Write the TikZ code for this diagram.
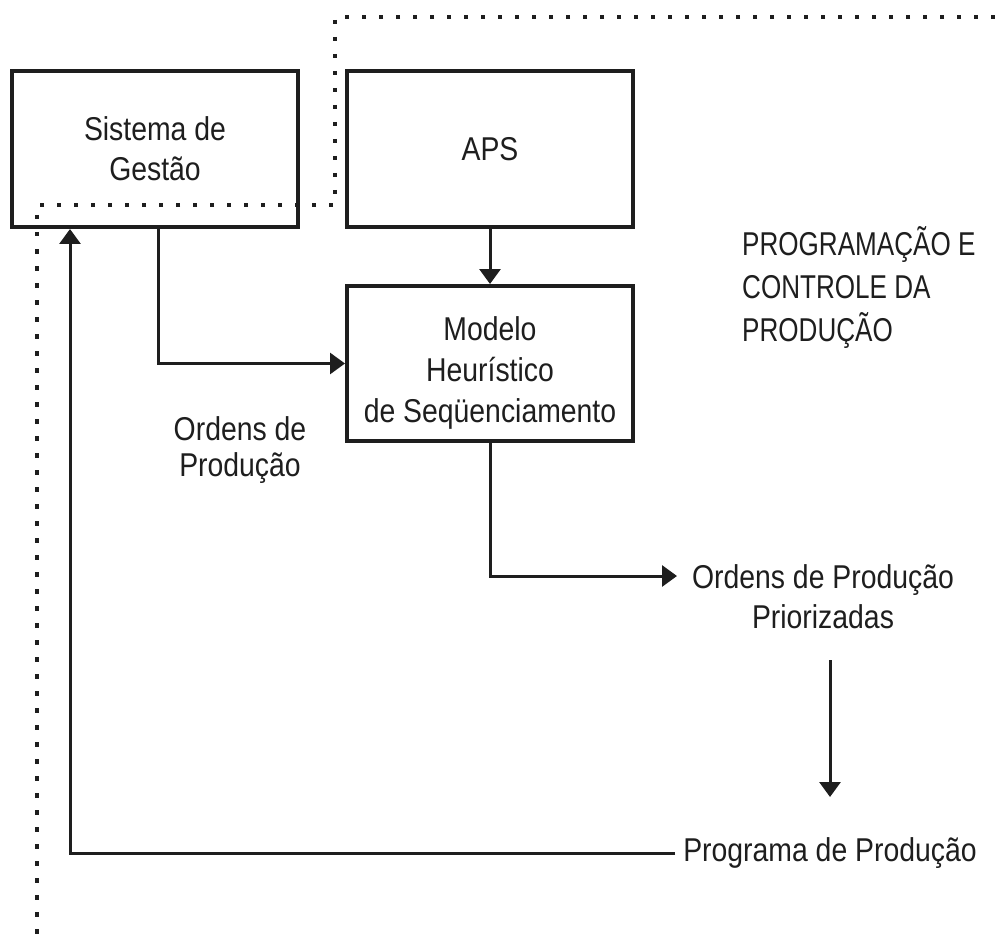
\documentclass[tikz,border=0pt]{standalone}
\usepackage{fontspec}
\setmainfont{Liberation Sans}[FakeStretch=0.86]
\newfontfamily\narrowfont{Liberation Sans}[FakeStretch=0.79]
\usetikzlibrary{arrows.meta,calc}
\definecolor{ink}{HTML}{1E1E1E}
\tikzset{
  box/.style={draw=ink, line width=4pt, minimum width=286pt, minimum height=156pt, inner sep=0pt, align=center, text=ink},
  lbl/.style={inner sep=6pt, align=center, text=ink},
  arr/.style={draw=ink, line width=3pt, -{Triangle[length=15pt,width=21pt]}},
  bound/.style={draw=ink, line width=4.5pt, dash pattern=on 4.5pt off 12.5pt}
}
\begin{document}
\begin{tikzpicture}[x=1pt,y=-1pt,font=\fontsize{33pt}{40pt}\selectfont]
\useasboundingbox (0,0) rectangle (995,941);
% dotted boundary
\draw[bound] (995,17) -- (335,17) -- (335,205) -- (37,205) -- (37,941);
% boxes
\node[box] (sis) at (155,149) {Sistema de\\Gestão};
\node[box] (aps) at (490,149) {APS};
\node[box, minimum height=155pt, font=\fontsize{33pt}{41pt}\selectfont] (mod) at (490,363.5)
  {\begin{tabular}{@{}c@{}}\rule{0pt}{49pt}Modelo\\Heurístico\\de Seqüenciamento\end{tabular}};
% labels
\node[lbl, font=\fontsize{33pt}{36pt}\selectfont] (ord) at (240,450) {Ordens de\\Produção};
\node[lbl] (prio) at (823,597) {Ordens de Produção\\Priorizadas};
\node[lbl, inner sep=8pt] (prog) at (830,853) {Programa de Produção};
\node[lbl, align=left, anchor=west, font=\narrowfont\fontsize{33pt}{43pt}\selectfont] (pcp) at (736,288) {PROGRAMAÇÃO E\\CONTROLE DA\\PRODUÇÃO};
% connector end points
\coordinate (prioin) at (677,576);
\coordinate (priotop) at (830,660);
\coordinate (progtop) at (830,797);
\coordinate (sisout) at ($(sis.south west)+(148,0)$);
\coordinate (sisin) at ($(sis.south west)+(60,0)$);
% connectors
\draw[arr] (aps.south) -- (mod.north);
\draw[arr] (sisout) |- (mod.west);
\draw[arr] (mod.south) |- (prioin);
\draw[arr] (priotop) -- (progtop);
\draw[arr] (prog.west) -| (sisin);
\end{tikzpicture}
\end{document}
